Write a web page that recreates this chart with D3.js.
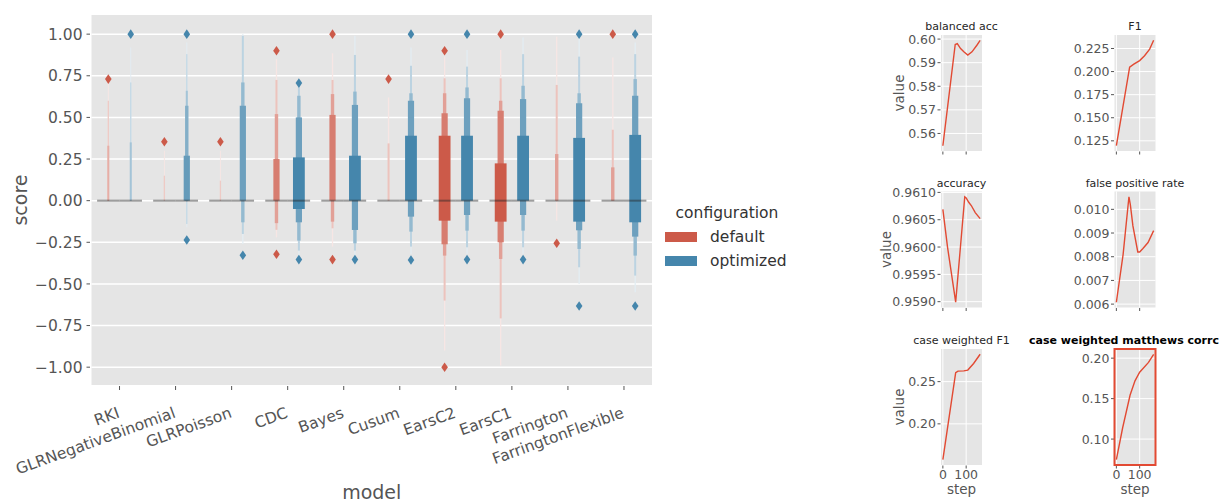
<!DOCTYPE html>
<html>
<head>
<meta charset="utf-8">
<script src="https://cdn.jsdelivr.net/npm/d3@7"></script>
<style>
body { margin: 0; background: #fff; }
svg { font-family: "DejaVu Sans", sans-serif; }
</style>
</head>
<body>
<svg id="chart" width="1228" height="503"></svg>
<script>
var models = ["RKI", "GLRNegativeBinomial", "GLRPoisson", "CDC", "Bayes", "Cusum", "EarsC2", "EarsC1", "Farrington", "FarringtonFlexible"];
var configs = ["default", "optimized"];
var scoreTicks = [-1, -0.75, -0.5, -0.25, 0, 0.25, 0.5, 0.75, 1];

// letter value boxes per model, innermost first, [low, high]
var defaultBoxes = [
    [[0, 0], [0, 0], [0, 0], [0, 0.33], [0, 0.6], [0, 0.71]],
    [[0, 0], [0, 0], [0, 0], [0, 0], [0, 0.15], [0, 0.3]],
    [[0, 0], [0, 0], [0, 0], [0, 0], [0, 0.12], [0, 0.3]],
    [[0, 0], [0, 0.25], [-0.135, 0.52], [-0.175, 0.725], [-0.22, 0.85]],
    [[0, 0], [0, 0.515], [-0.126, 0.64], [-0.166, 0.725], [-0.276, 0.885]],
    [[0, 0], [0, 0], [0, 0], [0, 0.344], [0, 0.62]],
    [[-0.12, 0.39], [-0.262, 0.525], [-0.33, 0.645], [-0.6, 0.735], [-0.9, 0.865]],
    [[-0.126, 0.224], [-0.25, 0.54], [-0.35, 0.6], [-0.707, 0.735], [-0.99, 0.905]],
    [[0, 0], [0, 0], [0, 0.28], [0, 0.695], [-0.12, 0.985]],
    [[0, 0], [0, 0], [0, 0.2], [0, 0.426], [0, 0.86]]
];
var optimizedBoxes = [
    [[0, 0], [0, 0], [0, 0], [0, 0.35], [0, 0.71], [0, 0.92]],
    [[0, 0], [0, 0.27], [0, 0.57], [0, 0.66], [-0.14, 0.88], [-0.16, 0.95]],
    [[0, 0], [0, 0.57], [-0.13, 0.71], [-0.2, 0.99], [-0.26, 1.0]],
    [[-0.05, 0.26], [-0.13, 0.5], [-0.24, 0.63], [-0.3, 0.68], [-0.33, 0.7]],
    [[0, 0.27], [-0.176, 0.575], [-0.256, 0.655], [-0.3, 0.875], [-0.33, 0.99]],
    [[0, 0.39], [-0.096, 0.6], [-0.186, 0.645], [-0.276, 0.81], [-0.32, 0.92]],
    [[0, 0.39], [-0.086, 0.615], [-0.18, 0.68], [-0.28, 0.805], [-0.32, 0.905]],
    [[0, 0.39], [-0.086, 0.61], [-0.18, 0.69], [-0.28, 0.88], [-0.32, 0.98]],
    [[-0.126, 0.377], [-0.178, 0.585], [-0.29, 0.645], [-0.4, 0.865], [-0.5, 0.975]],
    [[-0.13, 0.395], [-0.216, 0.63], [-0.33, 0.73], [-0.45, 0.88], [-0.55, 0.95]]
];
var defaultMedians = [0, 0, 0, 0, 0, 0, 0, 0, 0, 0];
var optimizedMedians = [0, 0, 0, 0, 0, 0, 0, 0, 0, 0];
var defaultOutliers = [[0.73], [0.354], [0.354], [0.9, -0.322], [1.0, -0.354], [0.73], [0.9, -1.0], [1.0], [-0.256], [1.0]];
var optimizedOutliers = [[1.0], [1.0, -0.236], [-0.328], [0.706, -0.354], [-0.354], [1.0, -0.356], [1.0, -0.354], [-0.354], [1.0, -0.633], [1.0, -0.633]];

// training curves on the right, [step, value]
var metricNames = ["balanced acc", "F1", "accuracy", "false positive rate", "case weighted F1", "case weighted matthews corrc"];
var balancedAcc = [[0, 0.5548], [53, 0.5977], [62, 0.5981], [76, 0.596], [90, 0.5946], [107, 0.5932], [125, 0.5946], [146, 0.5974], [160, 0.5995]];
var f1 = [[0, 0.1197], [57, 0.2048], [75, 0.208], [100, 0.2119], [121, 0.2172], [143, 0.2243], [160, 0.2339]];
var accuracy = [[0, 0.96069], [20, 0.96], [55, 0.95899], [94, 0.96092], [100, 0.9609], [111, 0.96082], [122, 0.96076], [139, 0.96063], [160, 0.96052]];
var falsePositiveRate = [[0, 0.00608], [29, 0.0081], [54, 0.01053], [60, 0.0102], [71, 0.0093], [92, 0.0082], [100, 0.0082], [114, 0.00835], [136, 0.0086], [160, 0.0091]];
var caseWeightedF1 = [[0, 0.1575], [55, 0.2605], [65, 0.2625], [90, 0.2627], [107, 0.2637], [132, 0.2715], [160, 0.2824]];
var caseWeightedMcc = [[0, 0.0745], [27, 0.114], [59, 0.1544], [80, 0.172], [100, 0.1827], [138, 0.1948], [160, 0.2048]];
var balancedAccTicks = [0.56, 0.57, 0.58, 0.59, 0.60];
var f1Ticks = [0.125, 0.150, 0.175, 0.200, 0.225];
var accuracyTicks = [0.9590, 0.9595, 0.9600, 0.9605, 0.9610];
var fprTicks = [0.006, 0.007, 0.008, 0.009, 0.010];
var caseWeightedF1Ticks = [0.20, 0.25];
var mccTicks = [0.10, 0.15, 0.20];
var stepTicks = [0, 100];

var red = "#CC5A49", blue = "#4586AC", lineRed = "#E24A33";
var svg = d3.select("#chart");

// ---------- main letter value plot ----------
var plot = {left: 91.5, right: 652, top: 15, bottom: 385};
var x = d3.scaleBand().domain(models).range([plot.left, plot.right]);
var dodge = d3.scaleBand().domain(configs).range([0, x.bandwidth() * 0.8]);
var y = d3.scaleLinear().domain([-1.107, 1.115]).range([plot.bottom, plot.top]);
var colorOf = {default: red, optimized: blue};

svg.append("rect")
    .attr("x", plot.left).attr("y", plot.top)
    .attr("width", plot.right - plot.left).attr("height", plot.bottom - plot.top)
    .attr("fill", "#E5E5E5");

svg.append("g").selectAll("line").data(scoreTicks).join("line")
    .attr("x1", plot.left).attr("x2", plot.right)
    .attr("y1", d => y(d)).attr("y2", d => y(d))
    .attr("stroke", "#fff").attr("stroke-width", 1.5);

function hueCenter(model, config) {
    return x(model) + x.bandwidth() * 0.1 + dodge(config) + dodge.bandwidth() / 2;
}

function drawBoxen(model, config, levels, median, outliers) {
    var cx = hueCenter(model, config);
    var base = colorOf[config];
    var light = d3.interpolateRgb(base, "#fff")(0.85);
    var n = levels.length;
    var g = svg.append("g");
    // outermost first so the inner boxes sit on top
    for (var j = n - 1; j >= 0; j--) {
        var lv = levels[j];
        if (lv[1] - lv[0] <= 0) continue;
        var w = dodge.bandwidth() / 2 * Math.pow(2, -j) + 0.6;
        g.append("rect")
            .attr("x", cx - w / 2).attr("width", w)
            .attr("y", y(lv[1])).attr("height", y(lv[0]) - y(lv[1]))
            .attr("fill", d3.interpolateRgb(base, light)(n > 1 ? j / (n - 1) : 0));
    }
    g.append("line")
        .attr("x1", cx - dodge.bandwidth() / 2).attr("x2", cx + dodge.bandwidth() / 2)
        .attr("y1", y(median)).attr("y2", y(median))
        .attr("stroke", "rgba(38,38,38,0.45)").attr("stroke-width", 2);
    g.selectAll("path").data(outliers).join("path")
        .attr("d", "M0,-4.8L3.3,0L0,4.8L-3.3,0Z")
        .attr("transform", d => "translate(" + cx + "," + y(d) + ")")
        .attr("fill", base);
}

models.forEach(function(m, i) {
    drawBoxen(m, "default", defaultBoxes[i], defaultMedians[i], defaultOutliers[i]);
    drawBoxen(m, "optimized", optimizedBoxes[i], optimizedMedians[i], optimizedOutliers[i]);
});

// y axis
var yAxis = svg.append("g");
yAxis.selectAll("line").data(scoreTicks).join("line")
    .attr("x1", plot.left - 5).attr("x2", plot.left - 1.5)
    .attr("y1", d => y(d)).attr("y2", d => y(d))
    .attr("stroke", "#555");
yAxis.selectAll("text").data(scoreTicks).join("text")
    .attr("x", plot.left - 9).attr("y", d => y(d)).attr("dy", "0.36em")
    .attr("text-anchor", "end").attr("font-size", "15.5px").attr("fill", "#555")
    .text(d => d3.format(".2f")(d).replace("-", "\u2212"));
svg.append("text")
    .attr("transform", "translate(27," + (plot.top + plot.bottom) / 2 + ") rotate(-90)")
    .attr("text-anchor", "middle").attr("font-size", "19px").attr("fill", "#555")
    .text("score");

// x axis
var xAxis = svg.append("g");
xAxis.selectAll("line").data(models).join("line")
    .attr("x1", d => x(d) + x.bandwidth() / 2).attr("x2", d => x(d) + x.bandwidth() / 2)
    .attr("y1", plot.bottom + 1).attr("y2", plot.bottom + 5)
    .attr("stroke", "#555");
xAxis.selectAll("text").data(models).join("text")
    .attr("transform", d => "translate(" + (x(d) + x.bandwidth() / 2 + 1) + ",417) rotate(-20)")
    .attr("text-anchor", "end").attr("font-size", "15.5px").attr("fill", "#555")
    .text(d => d);
svg.append("text")
    .attr("x", (plot.left + plot.right) / 2).attr("y", 499)
    .attr("text-anchor", "middle").attr("font-size", "19px").attr("fill", "#555")
    .text("model");

// legend
var legend = svg.append("g");
legend.append("text")
    .attr("x", 727).attr("y", 218).attr("text-anchor", "middle")
    .attr("font-size", "15.5px").attr("fill", "#333").text("configuration");
configs.forEach(function(c, i) {
    legend.append("rect")
        .attr("x", 665).attr("y", 232 + i * 24).attr("width", 32).attr("height", 10)
        .attr("fill", colorOf[c]);
    legend.append("text")
        .attr("x", 710).attr("y", 242 + i * 24)
        .attr("font-size", "15.5px").attr("fill", "#333").text(c);
});

// ---------- metric panels ----------
var panelData = [balancedAcc, f1, accuracy, falsePositiveRate, caseWeightedF1, caseWeightedMcc];
var panelTicks = [balancedAccTicks, f1Ticks, accuracyTicks, fprTicks, caseWeightedF1Ticks, mccTicks];
var panelFormats = [".2f", ".3f", ".4f", ".3f", ".2f", ".2f"];
var colLeft = [941, 1114.5], rowTop = [35, 191.5, 349];
var valueLabelX = [904, 891, 904];
var pw = 41, ph = 116;

function padded(ext) {
    var m = (ext[1] - ext[0]) * 0.05;
    return [ext[0] - m, ext[1] + m];
}

function drawPanel(data, i) {
    var left = colLeft[i % 2], row = Math.floor(i / 2), top = rowTop[row];
    var px = d3.scaleLinear().domain(padded(d3.extent(data, d => d[0]))).range([left, left + pw]);
    var py = d3.scaleLinear().domain(padded(d3.extent(data, d => d[1]))).range([top + ph, top]);
    var g = svg.append("g");
    g.append("rect").attr("x", left).attr("y", top).attr("width", pw).attr("height", ph)
        .attr("fill", "#E5E5E5");
    g.selectAll(".hg").data(panelTicks[i]).join("line").attr("class", "hg")
        .attr("x1", left).attr("x2", left + pw)
        .attr("y1", d => py(d)).attr("y2", d => py(d))
        .attr("stroke", "#fff").attr("stroke-width", 1);
    g.selectAll(".vg").data(stepTicks).join("line").attr("class", "vg")
        .attr("x1", d => px(d)).attr("x2", d => px(d))
        .attr("y1", top).attr("y2", top + ph)
        .attr("stroke", "#fff").attr("stroke-width", 1);
    g.append("path").datum(data)
        .attr("d", d3.line().x(d => px(d[0])).y(d => py(d[1])))
        .attr("fill", "none").attr("stroke", lineRed).attr("stroke-width", 1.4);
    // y ticks
    g.selectAll(".yt").data(panelTicks[i]).join("line").attr("class", "yt")
        .attr("x1", left - 3.5).attr("x2", left - 0.5)
        .attr("y1", d => py(d)).attr("y2", d => py(d)).attr("stroke", "#555");
    g.selectAll(".yl").data(panelTicks[i]).join("text").attr("class", "yl")
        .attr("x", left - 5).attr("y", d => py(d)).attr("dy", "0.36em")
        .attr("text-anchor", "end").attr("font-size", "12.5px").attr("fill", "#555")
        .text(d => d3.format(panelFormats[i])(d));
    // x ticks
    g.selectAll(".xt").data(stepTicks).join("line").attr("class", "xt")
        .attr("x1", d => px(d)).attr("x2", d => px(d))
        .attr("y1", top + ph + 0.5).attr("y2", top + ph + 3.5).attr("stroke", "#555");
    if (row == 2) {
        g.selectAll(".xl").data(stepTicks).join("text").attr("class", "xl")
            .attr("x", d => px(d)).attr("y", top + ph + 13.5)
            .attr("text-anchor", "middle").attr("font-size", "12.5px").attr("fill", "#555")
            .text(d => d);
        g.append("text").attr("x", left + pw / 2).attr("y", top + ph + 29)
            .attr("text-anchor", "middle").attr("font-size", "13.5px").attr("fill", "#555")
            .text("step");
    }
    if (i % 2 == 0) {
        g.append("text")
            .attr("transform", "translate(" + valueLabelX[row] + "," + (top + ph / 2) + ") rotate(-90)")
            .attr("text-anchor", "middle").attr("font-size", "13.5px").attr("fill", "#555")
            .text("value");
    }
    var title = g.append("text")
        .attr("x", left + pw / 2).attr("y", top - 5)
        .attr("text-anchor", "middle").attr("font-size", "11px").attr("fill", "#262626")
        .text(metricNames[i]);
    if (i == 5) {
        // highlighted metric
        title.attr("font-weight", "bold").attr("fill", "#000").attr("x", 1124);
        g.append("rect").attr("x", left).attr("y", top).attr("width", pw).attr("height", ph)
            .attr("fill", "none").attr("stroke", lineRed).attr("stroke-width", 2);
    }
}

panelData.forEach(drawPanel);
</script>
</body>
</html>
